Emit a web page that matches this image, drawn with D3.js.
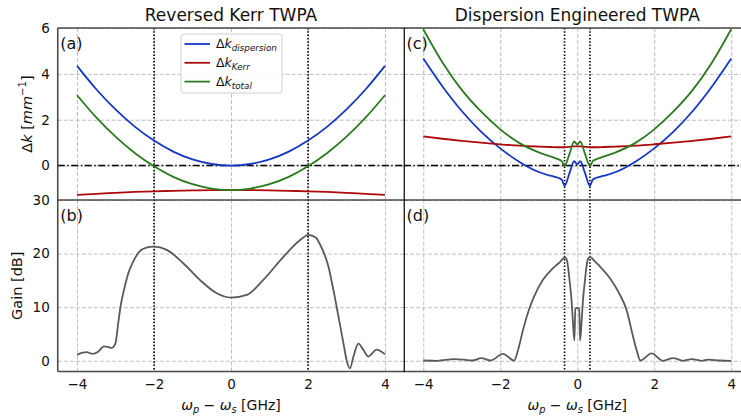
<!DOCTYPE html>
<html>
<head>
<meta charset="utf-8">
<script src="https://cdn.jsdelivr.net/npm/d3@7"></script>
<style>
  body { margin: 0; background: #fff; }
  svg { display: block; font-family: "DejaVu Sans", sans-serif; }
</style>
</head>
<body>
<svg id="chart" width="741" height="420"></svg>
<script>
// ---- data ----
var xTicks = [-4, -2, 0, 2, 4]
var dkTicks = [0, 2, 4, 6]
var gainTicks = [0, 10, 20, 30]

// (a) Reversed Kerr: phase mismatch
var xA = [-4, -3.5, -3, -2.5, -2, -1.5, -1, -0.5, 0, 0.5, 1, 1.5, 2, 2.5, 3, 3.5, 4]
var dispA = [4.35, 3.33, 2.45, 1.70, 1.09, 0.61, 0.27, 0.07, 0, 0.07, 0.27, 0.61, 1.09, 1.70, 2.45, 3.33, 4.35]
var kerrA = [-1.28, -1.23, -1.19, -1.15, -1.12, -1.10, -1.08, -1.07, -1.07, -1.07, -1.08, -1.10, -1.12, -1.15, -1.19, -1.23, -1.28]
var totalA = [3.07, 2.10, 1.26, 0.55, -0.03, -0.49, -0.81, -1.00, -1.07, -1.00, -0.81, -0.49, -0.03, 0.55, 1.26, 2.10, 3.07]

// (c) Dispersion engineered: phase mismatch
var xC = [-4, -3.5, -3, -2.5, -2, -1.5, -1, -0.7, -0.5, -0.4, -0.33, -0.2, -0.08, 0, 0.08, 0.2, 0.33, 0.4, 0.5, 0.7, 1, 1.5, 2, 2.5, 3, 3.5, 4]
var dispC = [4.67, 3.45, 2.38, 1.48, 0.75, 0.16, -0.28, -0.44, -0.53, -0.62, -0.88, -0.32, 0.19, 0.05, 0.19, -0.32, -0.88, -0.62, -0.53, -0.44, -0.28, 0.16, 0.75, 1.48, 2.38, 3.45, 4.67]
var kerrC = [1.27, 1.17, 1.08, 1.00, 0.93, 0.87, 0.83, 0.81, 0.80, 0.80, 0.80, 0.82, 0.84, 0.84, 0.84, 0.82, 0.80, 0.80, 0.80, 0.81, 0.83, 0.87, 0.93, 1.00, 1.08, 1.17, 1.27]
var totalC = [5.95, 4.50, 3.30, 2.36, 1.58, 0.98, 0.58, 0.40, 0.28, 0.19, -0.02, 0.52, 1.05, 0.92, 1.05, 0.52, -0.02, 0.19, 0.28, 0.40, 0.58, 0.98, 1.58, 2.36, 3.30, 4.50, 5.95]

// (b) Reversed Kerr: gain
var xB = [-4, -3.85, -3.75, -3.6, -3.45, -3.3, -3.2, -3.1, -3.0, -2.93, -2.86, -2.78, -2.66, -2.56, -2.4, -2.2, -2.0, -1.67, -1.24, -0.81, -0.37, 0, 0.41, 0.84, 1.36, 1.79, 2.01, 2.2, 2.32, 2.53, 2.66, 2.79, 2.92, 3.0, 3.09, 3.18, 3.31, 3.44, 3.57, 3.78, 4.0]
var gainB = [1.1, 1.5, 1.6, 1.3, 1.7, 2.7, 2.6, 2.4, 3.3, 7.0, 10.5, 13.2, 16.5, 18.2, 20.2, 21.1, 21.3, 20.7, 18.2, 15.1, 12.6, 11.8, 12.3, 15.1, 19.4, 22.5, 23.5, 23.0, 21.6, 17.6, 13.2, 8.3, 3.3, 0.2, -1.4, 0.8, 3.2, 2.0, 0.8, 2.1, 1.2]

// (d) Dispersion engineered: gain
var xD = [-4, -3.63, -3.2, -2.94, -2.73, -2.49, -2.25, -1.93, -1.64, -1.52, -1.4, -1.25, -1.12, -0.89, -0.63, -0.45, -0.32, -0.28, -0.24, -0.2, -0.15, -0.11, -0.075, -0.05, 0, 0.05, 0.075, 0.11, 0.15, 0.2, 0.24, 0.28, 0.33, 0.45, 0.59, 0.85, 1.11, 1.28, 1.45, 1.55, 1.64, 1.93, 2.23, 2.49, 2.75, 2.97, 3.23, 3.4, 3.7, 4]
var gainD = [0.05, 0, 0.3, 0.2, 0.05, 0.5, 0.05, 1.3, 0.05, 2.5, 6.0, 9.6, 12.0, 15.1, 17.3, 18.4, 19.3, 19.0, 17.6, 15.0, 11.4, 7.0, 3.8, 9.6, 9.9, 9.6, 3.8, 7.0, 11.4, 15.0, 17.6, 19.0, 19.4, 18.6, 17.6, 15.4, 12.3, 9.5, 4.5, 1.8, 0.05, 1.4, 0, 0.5, 0, 0.3, 0, 0.2, 0.05, 0]

// pump markers (dotted verticals)
var markA = [-2, 2]
var markC = [-0.33, 0.33]

var colBlue = "#1537c4"
var colRed = "#ad0b0b"
var colGreen = "#2b7a1e"
var colGain = "#5a5a5a"

// ---- layout ----
var svg = d3.select("#chart")
var top0 = 28, mid = 200, bot = 371.5

var xL = d3.scaleLinear().domain([-4.5, 4.5]).range([57.75, 404.25])
var xR = d3.scaleLinear().domain([-4.5, 4.5]).range([404, 750.5])
var yK = d3.scaleLinear().domain([-1.5, 6]).range([mid, top0])
var yG = d3.scaleLinear().domain([-2, 30]).range([bot, mid])

var panels = [
    {id: "a", x: xL, y: yK, label: "(a)"},
    {id: "b", x: xL, y: yG, label: "(b)"},
    {id: "c", x: xR, y: yK, label: "(c)"},
    {id: "d", x: xR, y: yG, label: "(d)"}
]

var defs = svg.append("defs")
panels.forEach(function (p) {
    var r = p.x.range(), h = p.y.range()
    defs.append("clipPath").attr("id", "clip-" + p.id)
        .append("rect")
        .attr("x", r[0]).attr("y", h[1])
        .attr("width", r[1] - r[0]).attr("height", h[0] - h[1])
})

// grids
panels.forEach(function (p) {
    var r = p.x.range(), h = p.y.range()
    var g = svg.append("g").attr("clip-path", "url(#clip-" + p.id + ")")
    g.append("g")
     .attr("transform", "translate(0," + h[0] + ")")
     .call(d3.axisBottom(p.x).tickValues(xTicks).tickSize(-(h[0] - h[1])).tickFormat(""))
    g.append("g")
     .attr("transform", "translate(" + r[0] + ",0)")
     .call(d3.axisLeft(p.y).tickValues(p.y === yK ? dkTicks : gainTicks).tickSize(-(r[1] - r[0])).tickFormat(""))
    g.selectAll(".domain").remove()
    g.selectAll(".tick line")
     .attr("stroke", "#b8b8b8")
     .attr("stroke-width", 0.9)
     .attr("stroke-dasharray", "4,2")
})

// zero dash-dot lines in top panels
;[["a", xL], ["c", xR]].forEach(function (d) {
    svg.append("line")
       .attr("x1", d[1].range()[0]).attr("x2", d[1].range()[1])
       .attr("y1", yK(0)).attr("y2", yK(0))
       .attr("stroke", "#000").attr("stroke-width", 1.5)
       .attr("stroke-dasharray", "7,2.5,1.5,2.5")
})

// dotted pump markers through both rows
function markers(xs, mk) {
    svg.selectAll(null).data(mk).enter().append("line")
       .attr("x1", function (d) { return xs(d) }).attr("x2", function (d) { return xs(d) })
       .attr("y1", top0).attr("y2", bot)
       .attr("stroke", "#000").attr("stroke-width", 1.6)
       .attr("stroke-dasharray", "1.5,1.8")
}
markers(xL, markA)
markers(xR, markC)

// curves
function drawLine(p, xs, ys, color, w) {
    var pts = xs.map(function (v, i) { return [v, ys[i]] })
    var line = d3.line()
                 .x(function (d) { return p.x(d[0]) })
                 .y(function (d) { return p.y(d[1]) })
                 .curve(d3.curveMonotoneX)
    svg.append("path")
       .attr("clip-path", "url(#clip-" + p.id + ")")
       .attr("d", line(pts))
       .attr("fill", "none")
       .attr("stroke", color)
       .attr("stroke-width", w)
       .attr("stroke-linejoin", "round")
}
drawLine(panels[0], xA, dispA, colBlue, 1.8)
drawLine(panels[0], xA, kerrA, colRed, 1.8)
drawLine(panels[0], xA, totalA, colGreen, 1.8)
drawLine(panels[2], xC, dispC, colBlue, 1.8)
drawLine(panels[2], xC, kerrC, colRed, 1.8)
drawLine(panels[2], xC, totalC, colGreen, 1.8)
drawLine(panels[1], xB, gainB, colGain, 1.8)
drawLine(panels[3], xD, gainD, colGain, 1.8)

// spines
var spineCol = "#4a4a4a"
;[[57.75, top0, 741, top0], [57.75, mid, 741, mid], [57.75, bot, 741, bot], [57.75, top0, 57.75, bot]].forEach(function (s) {
    svg.append("line")
       .attr("x1", s[0]).attr("y1", s[1]).attr("x2", s[2]).attr("y2", s[3])
       .attr("stroke", spineCol).attr("stroke-width", 1.6)
})
svg.append("line")
   .attr("x1", 404.25).attr("x2", 404.25).attr("y1", top0).attr("y2", bot + 0.8)
   .attr("stroke", "#000").attr("stroke-width", 1.2)

// mathtext helper
function mathText(sel, parts, size) {
    var cur = 0
    parts.forEach(function (p) {
        var shift = p.sub ? size * 0.22 : (p.sup ? -size * 0.42 : 0)
        var ts = sel.append("tspan").text(p.t)
        if (p.it) ts.attr("font-style", "italic")
        if (p.sub || p.sup) ts.attr("font-size", size * 0.7)
        if (shift !== cur) ts.attr("dy", shift - cur)
        cur = shift
    })
    return sel
}

// axes tick labels
var tickSize = 13.5
function yLabels(ys, ticks) {
    svg.append("g")
       .attr("transform", "translate(57.75,0)")
       .call(d3.axisLeft(ys).tickValues(ticks).tickSize(0).tickPadding(8))
       .call(function (g) { g.select(".domain").remove() })
       .selectAll("text")
       .attr("font-family", "DejaVu Sans").attr("font-size", tickSize).attr("fill", "#111")
}
yLabels(yK, dkTicks)
yLabels(yG, gainTicks)

;[xL, xR].forEach(function (xs) {
    svg.append("g")
       .attr("transform", "translate(0," + bot + ")")
       .call(d3.axisBottom(xs).tickValues(xTicks).tickSize(0).tickPadding(8))
       .call(function (g) { g.select(".domain").remove() })
       .selectAll("text")
       .attr("font-family", "DejaVu Sans").attr("font-size", tickSize).attr("fill", "#111")

    var xl = svg.append("text")
                .attr("x", (xs.range()[0] + xs.range()[1]) / 2)
                .attr("y", 410)
                .attr("text-anchor", "middle")
                .attr("font-size", 14)
                .attr("fill", "#111")
    mathText(xl, [{t: "ω", it: true}, {t: "p", it: true, sub: true}, {t: " − "}, {t: "ω", it: true}, {t: "s", it: true, sub: true}, {t: " [GHz]"}], 14)
})

// titles
svg.append("text").attr("x", 231).attr("y", 21).attr("text-anchor", "middle")
   .attr("font-size", 17).attr("fill", "#111").text("Reversed Kerr TWPA")
svg.append("text").attr("x", 577.3).attr("y", 21).attr("text-anchor", "middle")
   .attr("font-size", 17).attr("fill", "#111").text("Dispersion Engineered TWPA")

// y axis labels
var ylk = svg.append("text")
             .attr("transform", "translate(32," + (top0 + mid) / 2 + ") rotate(-90)")
             .attr("text-anchor", "middle").attr("font-size", 14.5).attr("fill", "#111")
mathText(ylk, [{t: "Δ"}, {t: "k", it: true}, {t: " ["}, {t: "mm", it: true}, {t: "−1", sup: true}, {t: "]"}], 14.5)

svg.append("text")
   .attr("transform", "translate(22," + (mid + bot) / 2 + ") rotate(-90)")
   .attr("text-anchor", "middle").attr("font-size", 14.5).attr("fill", "#111")
   .text("Gain [dB]")

// panel letters
panels.forEach(function (p) {
    svg.append("text")
       .attr("x", p.x.range()[0] + 2.5)
       .attr("y", p.y.range()[1] + 21)
       .attr("font-size", 16).attr("fill", "#111")
       .text(p.label)
})

// legend
var leg = svg.append("g").attr("transform", "translate(181,34)")
leg.append("rect")
   .attr("width", 101).attr("height", 59).attr("rx", 3)
   .attr("fill", "#fff").attr("fill-opacity", 0.85)
   .attr("stroke", "#d0d0d0").attr("stroke-width", 1)
var legItems = [
    {sub: "dispersion", color: colBlue},
    {sub: "Kerr", color: colRed},
    {sub: "total", color: colGreen}
]
legItems.forEach(function (d, i) {
    var yy = 10 + i * 18.8
    leg.append("line")
       .attr("x1", 3.5).attr("x2", 29).attr("y1", yy).attr("y2", yy)
       .attr("stroke", d.color).attr("stroke-width", 1.8)
    var t = leg.append("text")
               .attr("x", 35).attr("y", yy + 4.3)
               .attr("font-size", 12.5).attr("fill", "#111")
    mathText(t, [{t: "Δ"}, {t: "k", it: true}, {t: d.sub, it: true, sub: true}], 12.5)
})
</script>
</body>
</html>
